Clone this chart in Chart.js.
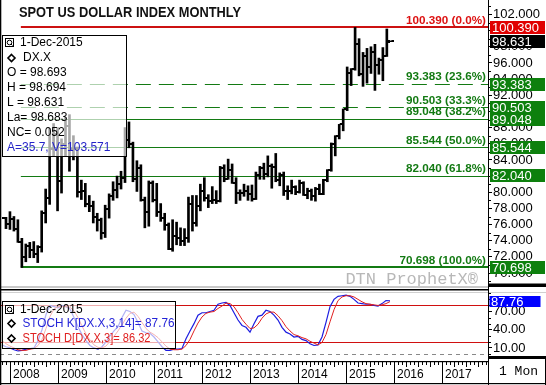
<!DOCTYPE html>
<html><head><meta charset="utf-8">
<script src="https://cdn.jsdelivr.net/npm/chart.js@4.4.1/dist/chart.umd.min.js"></script>
<style>
html,body{margin:0;padding:0;background:#fff;}
#wrap{position:relative;width:546px;height:385px;overflow:hidden;background:#fff;}
canvas{position:absolute;left:0;top:0;}
</style></head><body>
<div id="wrap"><canvas id="main" width="546" height="385"></canvas><canvas id="stoch" width="546" height="385"></canvas></div>
<script>
// ---------- DATA ----------
const years = ['2007','2008','2009','2010','2011','2012','2013','2014','2015','2016','2017'];
const monthNames = ['Jan','Feb','Mar','Apr','May','Jun','Jul','Aug','Sep','Oct','Nov','Dec'];
const yearLabels = ['2008','2009','2010','2011','2012','2013','2014','2015','2016','2017'];
// monthly bars Nov-2007 .. Dec-2015
const opens = [76.8,76.1,76.7,75.4,73.9,72.0,73.3,72.9,72.4,73.2,77.4,79.3,85.4,87.2,81.4,86.0,88.2,85.4,85.3,80.0,80.2,78.6,78.3,76.9,76.6,74.9,77.9,79.5,80.3,81.0,81.8,86.5,86.0,81.7,83.0,79.1,77.6,81.1,79.0,77.6,76.8,75.9,73.0,74.6,74.3,74.0,74.3,78.6,76.2,78.3,80.2,79.3,78.9,79.0,78.9,83.0,81.6,82.7,81.2,79.9,79.9,80.2,79.8,79.2,82.1,83.0,82.3,83.3,83.1,81.5,82.1,80.2,80.2,80.7,80.0,81.2,79.7,80.1,79.5,80.4,79.8,81.5,82.7,86.0,86.9,88.4,90.3,94.8,95.3,98.4,94.6,96.9,95.5,97.3,95.8,96.4,96.9,98.693];
const highs = [76.9,77.6,77.0,76.6,74.3,73.6,73.8,73.9,73.4,77.7,80.4,87.9,88.5,88.0,86.6,89.2,89.6,87.0,85.6,81.5,81.1,79.6,78.9,77.4,76.8,78.4,79.8,81.3,82.0,82.6,88.0,88.7,86.2,83.9,83.4,79.4,81.4,81.4,81.1,78.6,77.4,76.2,76.6,76.3,75.6,75.5,79.4,79.6,79.6,81.0,81.8,79.7,80.7,80.2,83.2,83.4,84.1,83.5,81.8,80.3,81.0,80.8,80.9,82.5,83.2,83.6,84.5,83.5,84.8,82.4,82.5,80.8,81.5,80.8,81.5,81.3,80.5,80.4,80.6,81.0,81.6,82.8,86.1,87.0,88.4,90.3,95.5,95.3,100.39,99.0,97.3,97.8,98.0,98.3,96.6,97.9,100.2,98.694];
const lows  = [75.5,75.4,75.2,73.8,70.7,71.4,71.9,71.9,71.3,72.6,76.2,78.5,84.4,77.7,79.9,84.5,82.6,84.0,79.4,79.1,78.2,77.6,76.2,75.2,74.2,74.4,76.8,79.0,79.3,80.4,81.2,85.5,81.3,80.1,78.9,75.6,75.8,78.8,77.0,76.4,75.3,72.9,72.7,73.5,73.4,73.4,73.8,75.2,75.8,77.7,78.9,78.1,78.6,78.6,78.8,81.3,81.6,81.1,78.6,79.0,79.5,79.0,78.9,79.1,81.6,81.6,81.9,80.5,81.3,80.8,79.6,79.1,79.8,79.7,79.9,79.6,79.2,79.0,78.9,79.7,79.7,81.3,82.6,84.5,86.6,87.6,90.1,93.2,95.1,94.4,93.1,93.5,94.7,92.6,94.6,93.8,96.8,98.631];
const closes= [76.1,76.7,75.4,73.9,72.0,73.3,72.9,72.4,73.2,77.4,79.3,85.4,87.2,81.4,86.0,88.2,85.4,85.3,80.0,80.2,78.6,78.3,76.9,76.6,74.9,77.9,79.5,80.3,81.0,81.8,86.5,86.0,81.7,83.0,79.1,77.6,81.1,79.0,77.6,76.8,75.9,73.0,74.6,74.3,74.0,74.3,78.6,76.2,78.3,80.2,79.3,78.9,79.0,78.9,83.0,81.6,82.7,81.2,79.9,79.9,80.2,79.8,79.2,82.1,83.0,82.3,83.3,83.1,81.5,82.1,80.2,80.2,80.7,80.0,81.2,79.7,80.1,79.5,80.4,79.8,81.5,82.7,86.0,86.9,88.4,90.3,94.8,95.3,98.4,94.6,96.9,95.5,97.3,95.8,96.4,96.9,98.631,98.683];
const stochK = [15,12,10,7,5,6,8,9,10,22,40,65,80,78,76,80,78,74,60,45,32,22,14,10,8,12,20,30,38,45,60,72,70,65,52,38,35,34,28,20,12,6,6,8,8,9,25,38,50,64,68,68,70,72,82,84,85,80,68,56,47,44,36,50,62,64,72,70,64,56,44,36,33,28,29,24,22,17,14,15,28,52,78,90,95,96,97,95,90,84,83,82,82,80,79,83,88,87.76];
const stochD = [22,17,13,10,7,6,6,8,9,14,24,42,62,74,78,78,78,77,71,60,46,33,23,15,11,10,13,21,29,38,48,59,67,69,62,52,42,36,32,27,20,13,8,7,7,8,14,24,38,51,61,67,69,70,75,79,84,83,78,68,57,49,42,43,49,59,66,69,69,63,55,45,38,32,30,27,25,21,18,15,19,32,53,73,88,94,96,96,94,90,86,83,82,81,80,81,83,86.32];
const fibLevels = [100.390, 93.383, 90.503, 89.048, 85.544, 82.040, 70.698];
const fibPcts = ['0.0%','23.6%','33.3%','38.2%','50.0%','61.8%','100.0%'];
const fibStartIndex = 4;   // Mar-2008 low bar
const lastPrice = 98.631;
const priceTicks = [70,72,74,76,78,80,82,84,86,88,90,92,94,96,98,100,102];
const stochTicks = [10,40,70];
const stochBands = [80,20];
const stochLastK = 87.76;
const infoLines = ['1-Dec-2015','DX.X','O = 98.693','H = 98.694','L = 98.631','La= 98.683','NC= 0.052','A=35.7, V=103.571'];
const stochLines = ['1-Dec-2015','STOCH K[DX.X,3,14]= 87.76','STOCH D[DX.X,3]= 86.32'];
const titleText = 'SPOT US DOLLAR INDEX MONTHLY';

// category labels Nov-2007 .. Dec-2017
const labels = [];
years.forEach(y => monthNames.forEach((m, i) => { if (y !== '2007' || i >= 10) labels.push(m + '-' + y); }));

const SANS = "'Liberation Sans', Arial, sans-serif";
const MONO = "'Liberation Mono', 'Courier New', monospace";
const GREEN = '#137a13';

function tickImg(left) {
  const c = document.createElement('canvas'); c.width = 7; c.height = 2;
  const g = c.getContext('2d'); g.fillStyle = '#000';
  g.fillRect(left ? 0 : 4, 0, 3, 2);
  return c;
}
function diamond(ctx, cx, cy) {
  ctx.save(); ctx.strokeStyle = '#000'; ctx.lineWidth = 1.6;
  ctx.beginPath(); ctx.moveTo(cx, cy - 3.5); ctx.lineTo(cx + 3.5, cy); ctx.lineTo(cx, cy + 3.5); ctx.lineTo(cx - 3.5, cy); ctx.closePath(); ctx.stroke(); ctx.restore();
}
function icon(ctx, x, y) {
  ctx.save(); ctx.strokeStyle = '#000'; ctx.lineWidth = 1;
  ctx.strokeRect(x + 0.5, y + 0.5, 8, 8);
  ctx.beginPath(); ctx.arc(x + 4.5, y + 4.5, 2.3, 0, Math.PI * 2); ctx.stroke();
  ctx.beginPath(); ctx.moveTo(x + 6, y + 6); ctx.lineTo(x + 7.5, y + 7.5); ctx.stroke();
  ctx.restore();
}
function valueBox(ctx, yc, bg, text) {
  ctx.save(); ctx.fillStyle = bg; ctx.fillRect(490, Math.round(yc - 6.5), 55, 13);
  ctx.fillStyle = '#fff'; ctx.font = '13px ' + SANS; ctx.textBaseline = 'middle'; ctx.textAlign = 'left';
  ctx.fillText(text, 492, Math.round(yc - 6.5) + 7); ctx.restore();
}
function fixAxis(s) { s.width = 58; s.paddingTop = 0; s.paddingBottom = 0; }

// ---------- MAIN PRICE CHART ----------
const mainPlugin = {
  id: 'mainDecor',
  beforeDatasetsDraw(chart) {
    const { ctx, chartArea: a, scales: { x, y } } = chart;
    const x0 = x.getPixelForValue(fibStartIndex) - 1;
    fibLevels.forEach((v, i) => {
      ctx.save();
      const thick = (i === 0 || i === fibLevels.length - 1);
      ctx.strokeStyle = i === 0 ? '#cc1111' : GREEN;
      ctx.lineWidth = thick ? 2 : 1;
      ctx.setLineDash((i === 1 || i === 2) ? [15, 8] : []);
      const py = Math.round(y.getPixelForValue(v)) + (thick ? 0 : 0.5);
      ctx.beginPath(); ctx.moveTo(x0, py); ctx.lineTo(a.right, py); ctx.stroke();
      ctx.restore();
    });
  },
  afterDatasetsDraw(chart) {
    const { ctx, chartArea: a, scales: { x, y } } = chart;
    ctx.save();
    ctx.font = 'bold 11.7px ' + SANS; ctx.textAlign = 'right'; ctx.textBaseline = 'middle';
    fibLevels.forEach((v, i) => {
      ctx.fillStyle = i === 0 ? '#dd1111' : GREEN;
      ctx.fillText(v.toFixed(3) + ' (' + fibPcts[i] + ')', 486, y.getPixelForValue(v) - 7);
    });
    ctx.font = '17px ' + MONO; ctx.fillStyle = '#b8b8b8';
    ctx.fillText('DTN ProphetX\u00AE', 478, 279);
    ctx.font = 'bold 14px ' + SANS; ctx.fillStyle = '#111'; ctx.textAlign = 'left';
    ctx.fillText(titleText, 19, 13.5, 222);
    ctx.fillStyle = 'rgba(255,255,255,0.66)'; ctx.fillRect(2.5, 35.5, 124, 121);
    ctx.strokeStyle = '#000'; ctx.lineWidth = 1; ctx.strokeRect(2.5, 35.5, 124, 121);
    icon(ctx, 5, 38);
    ctx.font = '12px ' + SANS; ctx.fillStyle = '#000';
    ctx.fillText(infoLines[0], 20, 43);
    diamond(ctx, 11.5, 58); ctx.fillText(infoLines[1], 23, 58);
    for (let i = 2; i < infoLines.length; i++) {
      ctx.fillStyle = i === infoLines.length - 1 ? '#2424c8' : '#000';
      ctx.fillText(infoLines[i], 7, 43 + i * 15);
    }
    ctx.restore();
  },
  afterDraw(chart) {
    const { ctx, scales: { y } } = chart;
    ctx.save();
    ctx.strokeStyle = '#000'; ctx.lineWidth = 1;
    for (let v = 69; v <= 103; v += 2) {
      const py = Math.round(y.getPixelForValue(v)) + 0.5;
      if (py > chart.chartArea.top && py < chart.chartArea.bottom) { ctx.beginPath(); ctx.moveTo(488, py); ctx.lineTo(491, py); ctx.stroke(); }
    }
    ctx.restore();
    fibLevels.forEach((v, i) => valueBox(ctx, y.getPixelForValue(v), i === 0 ? '#e00000' : '#0d800d', v.toFixed(3)));
    valueBox(ctx, y.getPixelForValue(lastPrice), '#000', lastPrice.toFixed(3));
  }
};

new Chart(document.getElementById('main'), {
  type: 'bar',
  data: {
    labels: labels,
    datasets: [
      { type: 'bar', data: lows.map((l, i) => [l, highs[i]]), backgroundColor: '#000', borderWidth: 0, barThickness: 2, order: 3 },
      { type: 'line', data: opens, showLine: false, pointStyle: tickImg(true), pointRadius: 3, borderWidth: 0, order: 2 },
      { type: 'line', data: closes, showLine: false, pointStyle: tickImg(false), pointRadius: 3, borderWidth: 0, order: 1 }
    ]
  },
  options: {
    responsive: false, animation: false, devicePixelRatio: 1,
    layout: { padding: { left: 0, right: 0, top: 2, bottom: 101 } },
    plugins: { legend: { display: false }, tooltip: { enabled: false } },
    scales: {
      x: { display: false, offset: true },
      y: {
        position: 'right', min: 68.65, max: 103.29,
        afterBuildTicks: s => { s.ticks = priceTicks.map(v => ({ value: v })); },
        afterFit: fixAxis,
        ticks: { autoSkip: false, font: { family: SANS, size: 13 }, color: '#000', padding: 1, callback: v => Number(v).toFixed(3) },
        grid: { drawOnChartArea: false, color: '#000', tickLength: 4 },
        border: { color: '#000' }
      }
    }
  },
  plugins: [mainPlugin]
});

// ---------- STOCHASTIC CHART + X AXIS STRIP ----------
const stochPlugin = {
  id: 'stochDecor',
  beforeDatasetsDraw(chart) {
    const { ctx, chartArea: a, scales: { y } } = chart;
    ctx.save();
    ctx.strokeStyle = '#d01010'; ctx.lineWidth = 1;
    stochBands.forEach(v => { const py = Math.round(y.getPixelForValue(v)) + 0.5; ctx.beginPath(); ctx.moveTo(a.left, py); ctx.lineTo(a.right, py); ctx.stroke(); });
    ctx.strokeStyle = '#888'; ctx.setLineDash([4, 4]);
    const pz = Math.round(y.getPixelForValue(0)) + 0.5; ctx.beginPath(); ctx.moveTo(a.left, pz); ctx.lineTo(a.right, pz); ctx.stroke();
    ctx.restore();
  },
  afterDraw(chart) {
    const { ctx, scales: { x, y } } = chart;
    ctx.save();
    ctx.strokeStyle = '#000'; ctx.lineWidth = 1;
    for (let v = 0; v <= 100; v += 10) { if (stochTicks.includes(v)) continue; const py = Math.round(y.getPixelForValue(v)) + 0.5; ctx.beginPath(); ctx.moveTo(488, py); ctx.lineTo(491, py); ctx.stroke(); }
    ctx.fillStyle = 'rgba(255,255,255,0.66)'; ctx.fillRect(2.5, 301.5, 173, 47);
    ctx.strokeStyle = '#000'; ctx.strokeRect(2.5, 301.5, 173, 47);
    icon(ctx, 5, 305);
    ctx.font = '12px ' + SANS; ctx.textBaseline = 'middle'; ctx.textAlign = 'left'; ctx.fillStyle = '#000';
    ctx.fillText(stochLines[0], 20, 309.5);
    diamond(ctx, 11.5, 323.5); ctx.fillStyle = '#2424d8'; ctx.fillText(stochLines[1], 22.5, 323.5, 152);
    diamond(ctx, 11.5, 338.5); ctx.fillStyle = '#e02020'; ctx.fillText(stochLines[2], 22.5, 338.5, 128);
    const yk = y.getPixelForValue(stochLastK);
    ctx.fillStyle = '#0000ff'; ctx.fillRect(489.5, Math.round(yk - 5), 51, 11);
    ctx.fillStyle = '#fff'; ctx.font = '13px ' + SANS; ctx.fillText(stochLastK.toFixed(2), 491, Math.round(yk - 5) + 6);
    ctx.fillStyle = '#c8c8c8'; ctx.fillRect(0, 286, 488, 2);
    ctx.fillStyle = '#000'; ctx.fillRect(0, 289, 488, 1.5);
    ctx.fillStyle = '#d0d0d0'; ctx.fillRect(0, 292, 546, 1);
    ctx.fillStyle = '#000';
    ctx.fillRect(488, 283.5, 58, 3.5);
    ctx.fillRect(488, 356, 58, 3);
    ctx.fillRect(0, 361, 488, 1.2);
    ctx.fillRect(0, 383, 546, 1.2);
    ctx.lineWidth = 1; ctx.strokeStyle = '#000';
    ctx.font = '12px ' + SANS; ctx.textBaseline = 'middle'; ctx.textAlign = 'left';
    let yi = 0;
    labels.forEach((lab, i) => {
      const px = Math.round(x.getPixelForValue(i)) + 0.5;
      const mi = monthNames.indexOf(lab.slice(0, 3));
      ctx.beginPath();
      if (mi === 0) {
        ctx.moveTo(px, 361); ctx.lineTo(px, 383); ctx.stroke();
        ctx.fillStyle = '#000'; ctx.fillText(yearLabels[yi++], px + 2.5, 375);
      } else {
        const len = (mi % 3 === 0) ? 5 : 3;
        ctx.moveTo(px, 362); ctx.lineTo(px, 362 + len); ctx.stroke();
      }
    });
    ctx.fillRect(488, 0, 1, 385);
    ctx.fillRect(0, 0, 1.3, 385);
    ctx.fillRect(545, 356, 1, 29);
    ctx.font = '13px ' + MONO; ctx.fillStyle = '#000';
    ctx.fillText('1 Mon', 499, 372);
    ctx.restore();
  }
};

new Chart(document.getElementById('stoch'), {
  type: 'line',
  data: {
    labels: labels,
    datasets: [
      { data: stochD, borderColor: '#e02020', borderWidth: 1, pointRadius: 0, tension: 0 },
      { data: stochK, borderColor: '#1c1ce0', borderWidth: 1.2, pointRadius: 0, tension: 0 }
    ]
  },
  options: {
    responsive: false, animation: false, devicePixelRatio: 1,
    layout: { padding: { left: 0, right: 0, top: 291, bottom: 29 } },
    plugins: { legend: { display: false }, tooltip: { enabled: false } },
    scales: {
      x: { display: false, offset: true },
      y: {
        position: 'right', min: -3.3, max: 103.8,
        afterBuildTicks: s => { s.ticks = stochTicks.map(v => ({ value: v })); },
        afterFit: fixAxis,
        ticks: { autoSkip: false, font: { family: SANS, size: 13 }, color: '#000', padding: 1, callback: v => Number(v).toFixed(2) },
        grid: { drawOnChartArea: false, color: '#000', tickLength: 4 },
        border: { color: '#000' }
      }
    }
  },
  plugins: [stochPlugin]
});
</script>
</body></html>
